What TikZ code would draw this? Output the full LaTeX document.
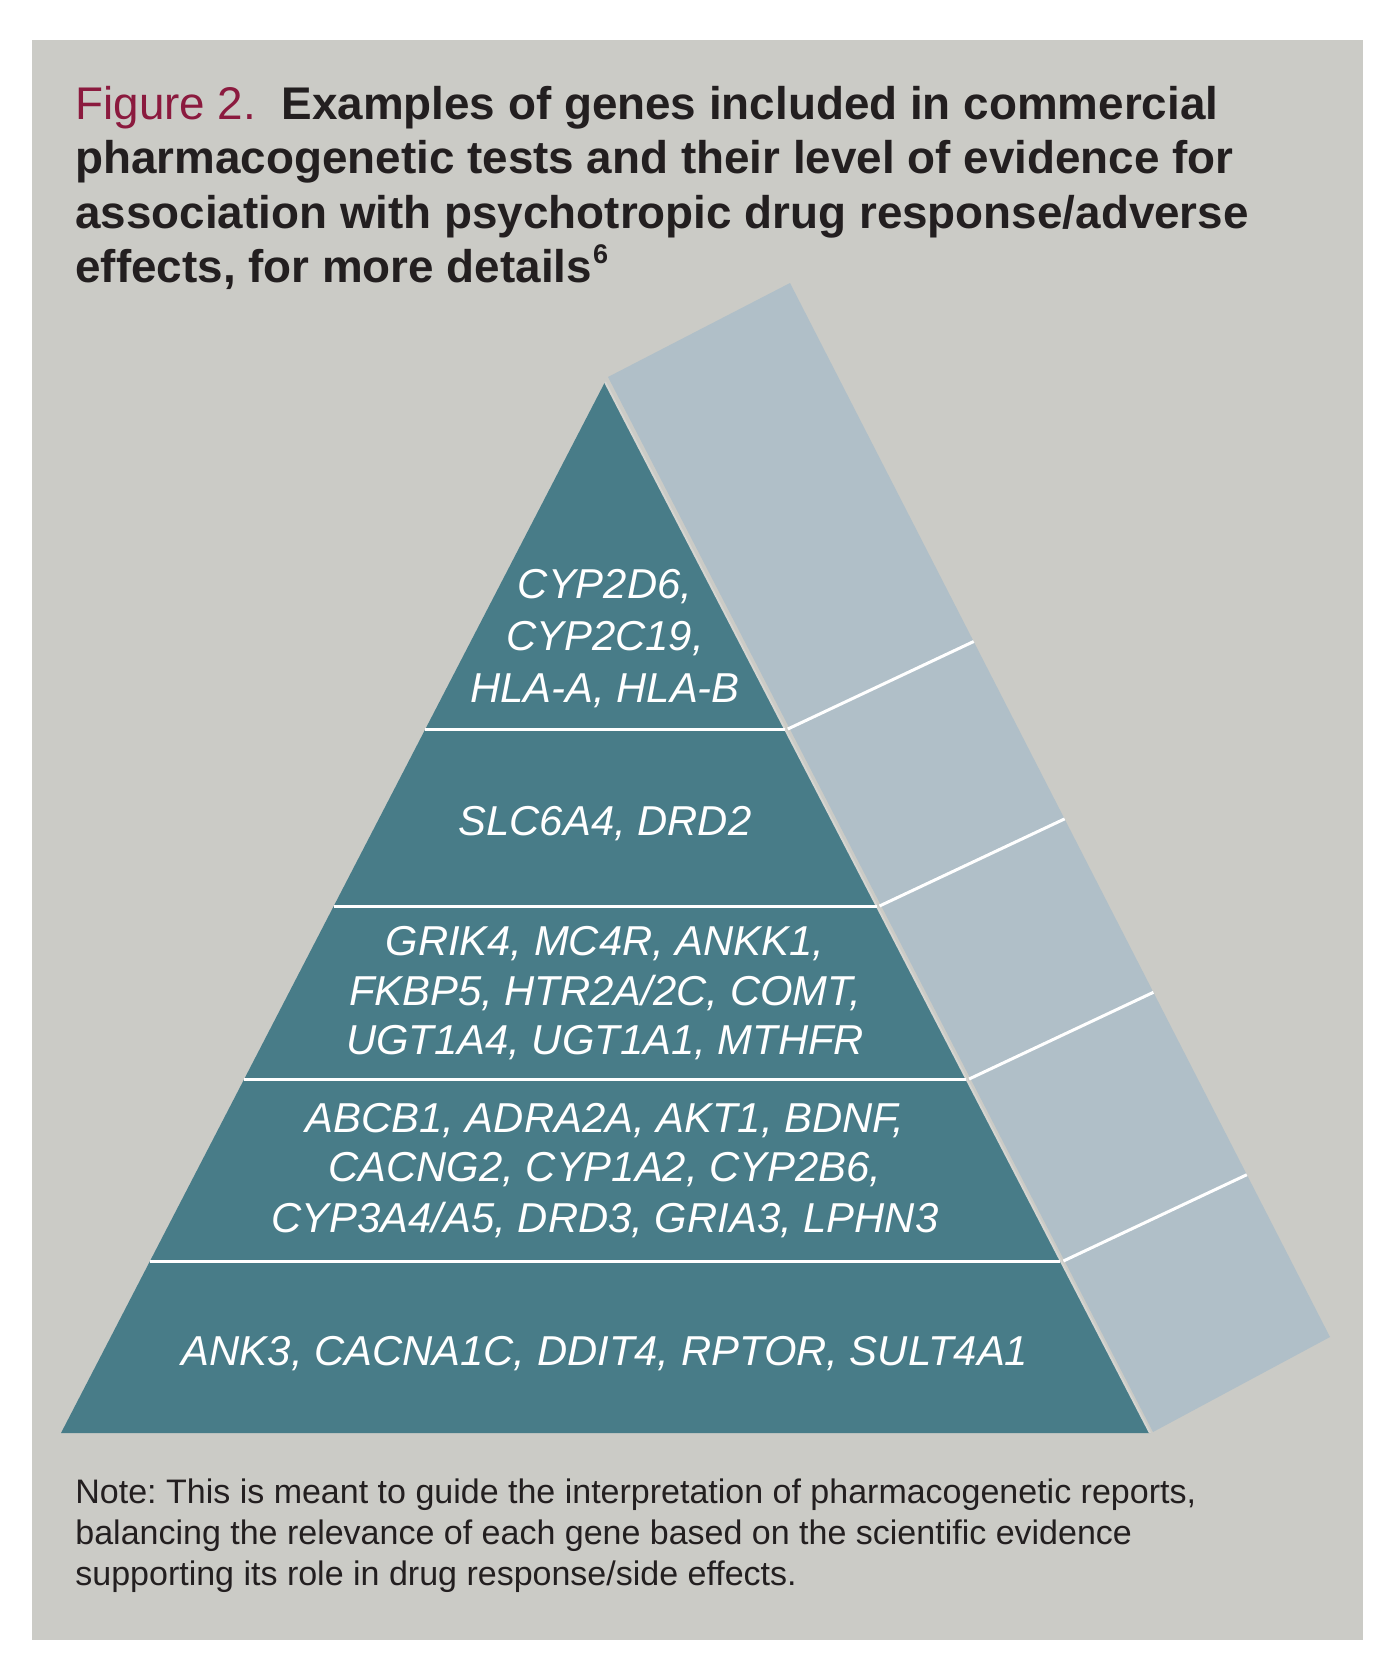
\documentclass[tikz,border=0pt]{standalone}
\usepackage{fontspec}
\setmainfont{Liberation Sans}
\frenchspacing
\definecolor{bggrey}{RGB}{203,203,198}
\definecolor{teal}{RGB}{72,124,136}
\definecolor{panel}{RGB}{176,191,200}
\definecolor{figred}{RGB}{139,26,62}
\definecolor{txt}{RGB}{35,31,32}
\tikzset{
  titleline/.style={anchor=base west, inner sep=0pt, text=txt, font=\fontsize{22.9}{27}\selectfont\bfseries},
  noteline/.style={anchor=base west, inner sep=0pt, text=txt, font=\fontsize{17}{20}\selectfont},
  geneline/.style={anchor=base, inner sep=0pt, text=white, font=\fontsize{20.9}{25}\selectfont\itshape},
  sepline/.style={draw=white, line width=1.5pt},
}
\begin{document}
\begin{tikzpicture}[x=0.5pt,y=-0.5pt]
\useasboundingbox (0,0) rectangle (1393,1669);
\fill[white] (0,0) rectangle (1393,1669);
\fill[bggrey] (32,40) rectangle (1363,1640);
% title
\node[titleline] (ti1) at (75,120) {\textcolor{figred}{\mdseries Figure 2.}\ \ Examples of genes included in commercial};
\node[titleline] (ti2) at (75,174) {pharmacogenetic tests and their level of evidence for};
\node[titleline] (ti3) at (75,228) {association with psychotropic drug response/adverse};
\node[titleline] (ti4) at (75,282) {effects, for more details\kern0.5pt\raisebox{0.4em}{\fontsize{13.5}{13.5}\selectfont 6}};
% geometry
\coordinate (A) at (605,382);
\coordinate (BL) at (61,1433);
\coordinate (BR) at (1150,1433);
\coordinate (P1) at (608,377);
\coordinate (P2) at (790,283);
\coordinate (P3) at (1330,1337);
\coordinate (P4) at (1153,1432);
\fill[panel] (P1) -- (P2) -- (P3) -- (P4) -- cycle;
\fill[teal] (A) -- (BL) -- (BR) -- cycle;
\draw[bggrey!80!white, line width=1pt] (A) -- (BR);
% separators
\coordinate (s1l) at (425.2,729);  \coordinate (s1r) at (784.8,729);  \coordinate (d1) at (973.7,641.5);
\coordinate (s2l) at (333.5,906);  \coordinate (s2r) at (876.5,906);  \coordinate (d2) at (1064.6,818.9);
\coordinate (s3l) at (243.9,1079); \coordinate (s3r) at (966.1,1079); \coordinate (d3) at (1153.4,992.3);
\coordinate (s4l) at (149.6,1261); \coordinate (s4r) at (1060.4,1261);\coordinate (d4) at (1246.8,1174.7);
\foreach \i in {1,2,3,4}{
  \draw[sepline] (s\i l) -- (s\i r);
  \draw[sepline] ([xshift=1.5pt]s\i r) -- (d\i);
}
% genes
\node[geneline] (g1a) at (605,598) {CYP2D6,};
\node[geneline] (g1b) at (605,650) {CYP2C19,};
\node[geneline] (g1c) at (605,702) {HLA-A, HLA-B};
\node[geneline] (g2a) at (605,835) {SLC6A4, DRD2};
\node[geneline] (g3a) at (605,955) {GRIK4, MC4R, ANKK1,};
\node[geneline] (g3b) at (605,1005) {FKBP5, HTR2A/2C, COMT,};
\node[geneline] (g3c) at (605,1054) {UGT1A4, UGT1A1, MTHFR};
\node[geneline] (g4a) at (605,1132) {ABCB1, ADRA2A, AKT1, BDNF,};
\node[geneline] (g4b) at (605,1181) {CACNG2, CYP1A2, CYP2B6,};
\node[geneline] (g4c) at (605,1232) {CYP3A4/A5, DRD3, GRIA3, LPHN3};
\node[geneline] (g5a) at (605,1365) {ANK3, CACNA1C, DDIT4, RPTOR, SULT4A1};
% note
\node[noteline] (n1) at (75,1503) {Note: This is meant to guide the interpretation of pharmacogenetic reports,};
\node[noteline] (n2) at (75,1544) {balancing the relevance of each gene based on the scientific evidence};
\node[noteline] (n3) at (75,1585) {supporting its role in drug response/side effects.};
\end{tikzpicture}
\end{document}
